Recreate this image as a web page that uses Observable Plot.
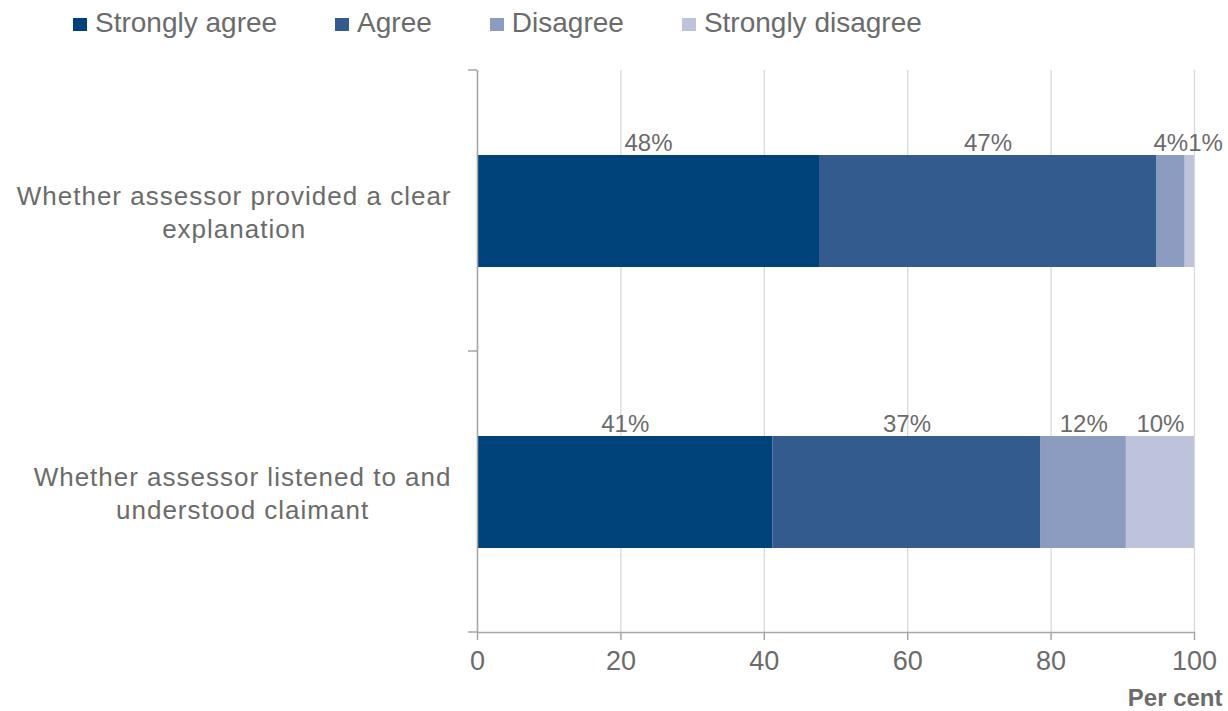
<!DOCTYPE html>
<html>
<head>
<meta charset="utf-8">
<script src="https://cdn.jsdelivr.net/npm/d3@7"></script>
<script src="https://cdn.jsdelivr.net/npm/@observablehq/plot@0.6"></script>
<style>
  html, body { margin: 0; padding: 0; background: #fff; }
  body { width: 1228px; height: 711px; overflow: hidden; font-family: "Liberation Sans", Arial, sans-serif; }
  #legend { height: 45px; display: flex; align-items: center; padding-left: 73px; box-sizing: border-box; }
  .item { display: flex; align-items: center; margin-right: 58px; font-size: 28px; color: #6b6b6b; }
  .sw { width: 14px; height: 13px; margin-right: 8px; margin-top: 3px; }
</style>
</head>
<body>
<div id="legend"></div>
<div id="chart"></div>
<script>
const categories = [
  "Whether assessor provided a clear explanation",
  "Whether assessor listened to and understood claimant"
];
const categoryLines = [
  ["Whether assessor provided a clear", "explanation"],
  ["Whether assessor listened to and", "understood claimant"]
];
const series = ["Strongly agree", "Agree", "Disagree", "Strongly disagree"];
const colors = ["#00427a", "#335b8e", "#8c9bc0", "#bcc3db"];
// values per category, in series order (per cent)
const valuesClear = [47.7, 47.0, 4.0, 1.3];
const valuesListened = [41.2, 37.4, 11.9, 9.5];
const labelsClear = ["48%", "47%", "4%", "1%"];
const labelsListened = ["41%", "37%", "12%", "10%"];
const xTicks = [0, 20, 40, 60, 80, 100];

const valueSets = [valuesClear, valuesListened];
const labelSets = [labelsClear, labelsListened];

// build stacked rows
const rows = [];
categories.forEach((cat, ci) => {
  let acc = 0;
  series.forEach((s, si) => {
    const v = valueSets[ci][si];
    rows.push({cat, series: s, value: v, x1: acc, x2: acc + v, label: labelSets[ci][si]});
    acc += v;
  });
});

// legend
const legend = document.getElementById("legend");
series.forEach((s, i) => {
  const it = document.createElement("div");
  it.className = "item";
  const sw = document.createElement("div");
  sw.className = "sw";
  sw.style.background = colors[i];
  const tx = document.createElement("span");
  tx.textContent = s;
  it.appendChild(sw); it.appendChild(tx);
  legend.appendChild(it);
});

const axisColor = "#a6a6a6";
const textColor = "#6b6b6b";
const W = 1228, H = 666;
const yPad = 26;

const plot = Plot.plot({
  width: W,
  height: H,
  marginLeft: 477,
  marginRight: 34,
  marginTop: 25,
  marginBottom: 79,
  style: {fontFamily: "'Liberation Sans', Arial, sans-serif", color: textColor, background: "#fff"},
  x: {domain: [0, 100]},
  y: {domain: categories, padding: 0},
  color: {domain: series, range: colors},
  marks: [
    Plot.gridX(xTicks, {stroke: "#d9d9d9", strokeOpacity: 1, strokeWidth: 1.3}),
    Plot.barX(rows, {x1: "x1", x2: "x2", y: "cat", fill: "series", insetTop: 85, insetBottom: 84}),
    Plot.text(rows.filter(d => d.value >= 3), {
      x: d => (d.x1 + d.x2) / 2, y: "cat", text: "label",
      dy: -68, lineAnchor: "middle", fontSize: 24, fill: textColor
    }),
    Plot.text(rows.filter(d => d.value < 3), {
      x: "x1", y: "cat", text: "label", textAnchor: "start",
      dx: 3, dy: -68, lineAnchor: "middle", fontSize: 24, fill: textColor
    }),
    Plot.ruleX([0], {stroke: axisColor, strokeWidth: 1.5}),
    Plot.frame({anchor: "bottom", stroke: axisColor, strokeWidth: 1.5}),
    Plot.axisX({
      ticks: xTicks, tickSize: 8, tickPadding: 10, stroke: axisColor, strokeWidth: 1.5,
      fontSize: 27, label: null, color: textColor
    }),
    Plot.axisY({
      tickSize: 0, tickPadding: yPad, fontSize: 26, lineHeight: 1.25, label: null,
      tickFormat: d => categoryLines[categories.indexOf(d)].join("\n"),
      fill: textColor
    }),
    Plot.text(["Per cent"], {
      frameAnchor: "bottom-right", textAnchor: "end", dx: 28, dy: 66,
      lineAnchor: "middle", fontSize: 24, fontWeight: "bold", fill: textColor
    })
  ]
});

// band-boundary ticks on the category axis
const ys = plot.scale("y");
const bounds = new Set();
categories.forEach(c => { const s = ys.apply(c); bounds.add(s); bounds.add(s + ys.bandwidth); });
const svg = d3.select(plot);
const g = svg.append("g").attr("stroke", axisColor).attr("stroke-width", 1.5);
const x0 = plot.scale("x").apply(0);
bounds.forEach(y => {
  g.append("line").attr("x1", x0 - 9).attr("x2", x0).attr("y1", y).attr("y2", y);
});

document.getElementById("chart").appendChild(plot);

// category labels: letter spacing, lines centred within a right-aligned block
svg.selectAll("[aria-label='y-axis tick label'] text").each(function() {
  const t = d3.select(this).attr("letter-spacing", "1px");
  const tspans = t.selectAll("tspan");
  let maxW = 0;
  tspans.each(function() { maxW = Math.max(maxW, this.getComputedTextLength()); });
  t.attr("text-anchor", "middle");
  const cx = -maxW / 2;
  tspans.attr("x", cx);
  if (tspans.empty()) t.attr("x", cx);
});
</script>
</body>
</html>
